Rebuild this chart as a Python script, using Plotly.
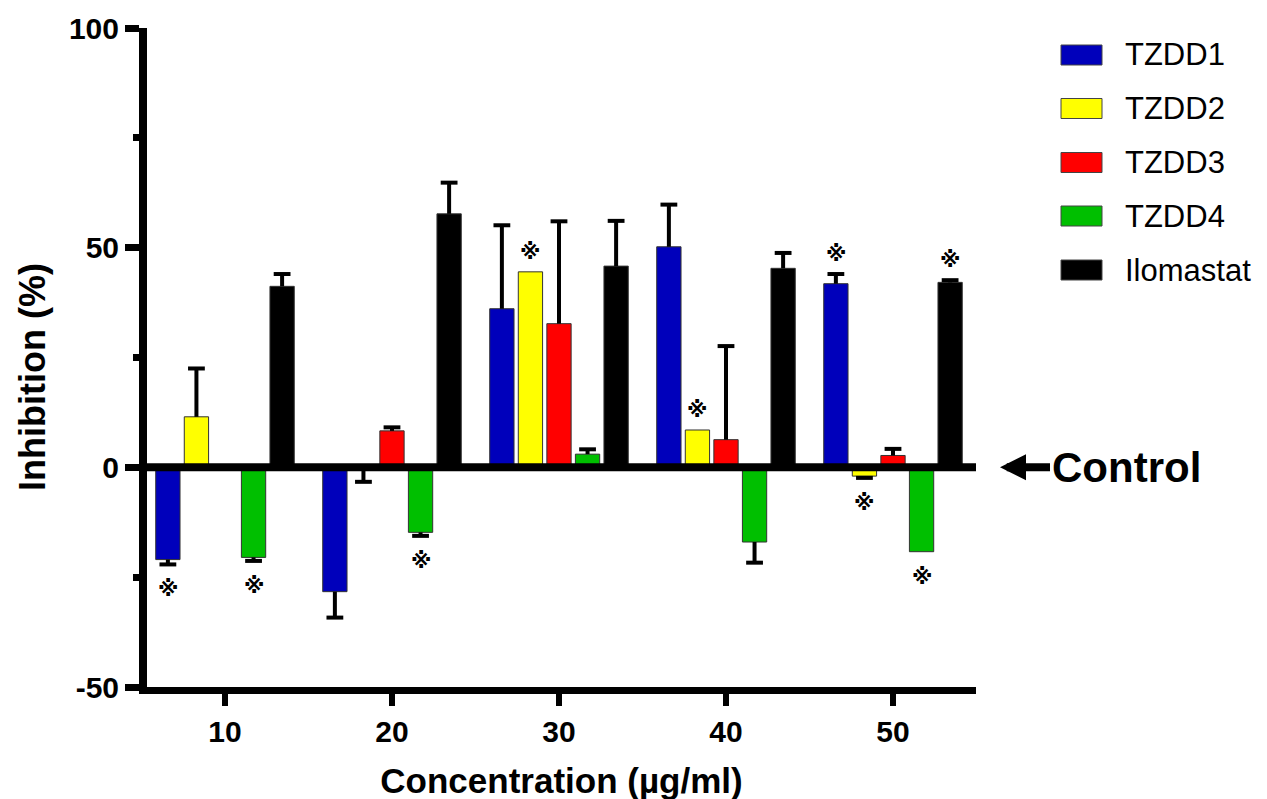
import plotly.graph_objects as go

# ---------------- data ----------------
concentrations = [10, 20, 30, 40, 50]
series_names = ["TZDD1", "TZDD2", "TZDD3", "TZDD4", "Ilomastat"]

tzdd1 = [-21.0, -28.3, 36.1, 50.2, 41.8]
tzdd1_err = [1.1, 5.9, 19.0, 9.6, 2.2]
tzdd2 = [11.5, -0.3, 44.5, 8.5, -2.0]
tzdd2_err = [11.0, 3.0, 0.0, 0.0, 0.4]
tzdd3 = [0.5, 8.3, 32.7, 6.3, 2.7]
tzdd3_err = [0.0, 0.8, 23.3, 21.3, 1.5]
tzdd4 = [-20.5, -14.8, 3.0, -17.0, -19.2]
tzdd4_err = [0.8, 0.8, 1.1, 4.7, 0.0]
ilomastat = [41.2, 57.7, 45.8, 45.3, 42.1]
ilomastat_err = [2.8, 7.1, 10.3, 3.5, 0.5]

# significance markers (1 = asterisk shown)
tzdd1_sig = [1, 0, 0, 0, 1]
tzdd2_sig = [0, 0, 1, 1, 1]
tzdd3_sig = [0, 0, 0, 0, 0]
tzdd4_sig = [1, 1, 0, 0, 1]
ilomastat_sig = [0, 0, 0, 0, 1]

y_tick_values = [-50, 0, 50, 100]
y_tick_labels = ["-50", "0", "50", "100"]
y_minor_ticks = [-25, 25, 75]

values = [tzdd1, tzdd2, tzdd3, tzdd4, ilomastat]
errors = [tzdd1_err, tzdd2_err, tzdd3_err, tzdd4_err, ilomastat_err]
sigs = [tzdd1_sig, tzdd2_sig, tzdd3_sig, tzdd4_sig, ilomastat_sig]
colors = ["#0000BB", "#FFFF00", "#FF0000", "#00BF00", "#000000"]

# ---------------- layout constants ----------------
STEP = 1.71      # spacing between bars within a group (x units)
BAR_W = 1.455    # bar width (x units)
FONT = "Liberation Sans, Arial, Helvetica, sans-serif"
OFF = 8          # page body margin of the browser

W, H = 1267, 799
PLOT_L, PLOT_W = 147 - OFF, 829
PLOT_T, PLOT_H = 28 - OFF, 659
PLOT_B = PLOT_T + PLOT_H

fig = go.Figure()
annotations = []

for i, name in enumerate(series_names):
    vals = values[i]
    errs = errors[i]
    xs = [c + (i - 2) * STEP for c in concentrations]
    plus = [e if v >= 0 else 0 for v, e in zip(vals, errs)]
    minus = [e if v < 0 else 0 for v, e in zip(vals, errs)]
    fig.add_trace(go.Bar(
        x=xs, y=vals, width=BAR_W, name=name,
        marker=dict(color=colors[i], line=dict(color="#333333", width=1)),
        error_y=dict(type="data", symmetric=False, array=plus, arrayminus=minus,
                     width=0, thickness=4, color="black"),
        showlegend=False,
    ))
    # error-bar caps at the far end only
    cx, cy = [], []
    for x, v, e in zip(xs, vals, errs):
        if e > 0:
            cx.append(x)
            cy.append(v + e if v >= 0 else v - e)
    fig.add_trace(go.Scatter(
        x=cx, y=cy, mode="markers", hoverinfo="skip", showlegend=False,
        marker=dict(symbol="line-ew", size=12, color="black",
                    line=dict(color="black", width=4)),
    ))
    # significance asterisks
    for x, v, e, s in zip(xs, vals, errs, sigs[i]):
        if s:
            end = v + e if v >= 0 else v - e
            annotations.append(dict(
                x=x, y=end, xref="x", yref="y", text="<b>※</b>", showarrow=False,
                font=dict(family="DejaVu Sans", size=21, color="black"),
                xanchor="center", yanchor="middle",
                yshift=20 if v >= 0 else -25,
            ))

# ---------------- custom legend ----------------
def px_x(p):
    return (p - OFF - PLOT_L) / PLOT_W


def px_y(p):
    return (PLOT_B - (p - OFF)) / PLOT_H


shapes = []
legend_py = [55, 108.5, 162.5, 216, 270]
for i, name in enumerate(series_names):
    yc = px_y(legend_py[i])
    hh = 10 / PLOT_H
    shapes.append(dict(
        type="rect", xref="paper", yref="paper",
        x0=px_x(1061), x1=px_x(1102),
        y0=yc - hh, y1=yc + hh,
        fillcolor=colors[i], line=dict(color="#444444", width=1),
    ))
    annotations.append(dict(
        x=px_x(1123), y=yc, xref="paper", yref="paper",
        text=name, showarrow=False, xanchor="left", yanchor="middle",
        font=dict(family=FONT, size=31, color="black"),
    ))

# zero line on top of bars
shapes.append(dict(type="line", xref="paper", yref="y", x0=0, x1=1, y0=0, y1=0,
                   line=dict(color="black", width=8), layer="above"))

# Control arrow
annotations.append(dict(
    x=px_x(1000), y=0, xref="paper", yref="y",
    ax=126, ay=0, axref="pixel", ayref="pixel",
    text="<b>Control</b>", showarrow=True, arrowhead=2, arrowsize=0.65,
    arrowwidth=8, arrowcolor="black", standoff=0,
    font=dict(family=FONT, size=42, color="black"),
))

# y-axis title (placed as rotated text)
annotations.append(dict(
    x=px_x(32), y=px_y(377), xref="paper", yref="paper",
    text="<b>Inhibition (%)</b>", showarrow=False, textangle=-90,
    xanchor="center", yanchor="middle",
    font=dict(family=FONT, size=36, color="black"),
))

fig.update_layout(
    width=W, height=H,
    margin=dict(l=PLOT_L, r=W - PLOT_L - PLOT_W, t=PLOT_T, b=H - PLOT_B),
    plot_bgcolor="white", paper_bgcolor="white",
    barmode="overlay",
    shapes=shapes, annotations=annotations,
    showlegend=False,
)

fig.update_xaxes(
    range=[5.33, 54.97], tickvals=concentrations,
    ticktext=[str(c) for c in concentrations],
    showgrid=False, zeroline=False,
    showline=True, linewidth=7, linecolor="black",
    ticks="outside", ticklen=12, tickwidth=6, tickcolor="black",
    tickfont=dict(family=FONT, size=30, color="black", weight="bold"),
    title=dict(text="Concentration (µg/ml)", standoff=24,
               font=dict(family=FONT, size=35, color="black", weight="bold")),
    automargin=False,
)
fig.update_yaxes(
    range=[-50, 100], tickvals=y_tick_values, ticktext=y_tick_labels,
    showgrid=False, zeroline=False,
    showline=True, linewidth=8, linecolor="black",
    ticks="outside", ticklen=14, tickwidth=7, tickcolor="black",
    tickfont=dict(family=FONT, size=30, color="black", weight="bold"),
    minor=dict(tickvals=y_minor_ticks, ticks="outside", ticklen=6, tickwidth=7,
               tickcolor="black", showgrid=False),
    automargin=False,
)

fig.write_html("out.html")
